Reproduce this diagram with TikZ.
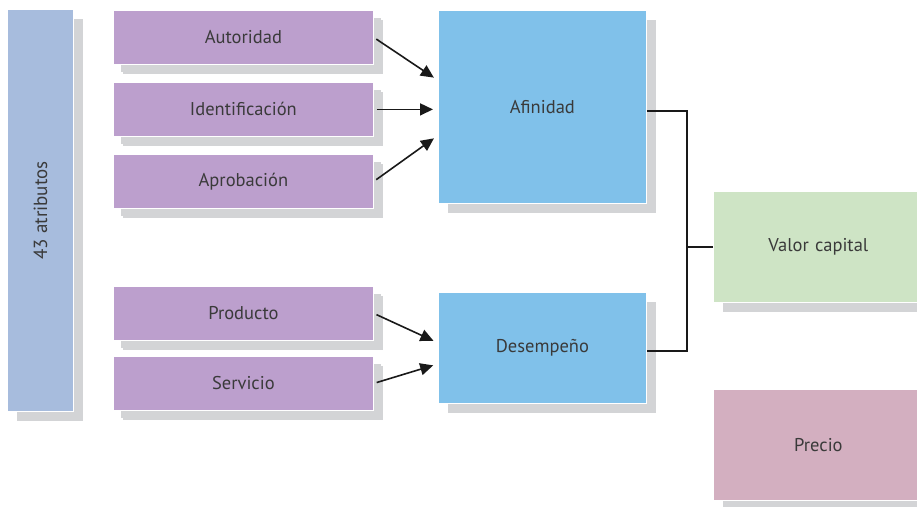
\documentclass[tikz,border=0pt]{standalone}
\usepackage{fontspec}
\setmainfont{PT Sans}
\usetikzlibrary{shadows,arrows.meta,calc}
\definecolor{cAtr}{HTML}{A7BCDD}
\definecolor{cPur}{HTML}{BC9FCD}
\definecolor{cBlu}{HTML}{80C1EA}
\definecolor{cGrn}{HTML}{CEE4C5}
\definecolor{cPnk}{HTML}{D3AFC0}
\definecolor{cShd}{HTML}{D3D4D6}
\definecolor{cTxt}{HTML}{3A3A3A}
\tikzset{
  boxbase/.style={draw=white, line width=0.8pt, anchor=north west, inner sep=0pt,
    text=cTxt, font=\fontsize{18.5}{22}\selectfont, align=center,
    general shadow={fill=cShd, draw=none, shadow xshift=10pt, shadow yshift=-10pt}},
  pbox/.style={boxbase, fill=cPur, minimum width=260pt, minimum height=54pt,
    general shadow={fill=cShd, draw=none, shadow xshift=8pt, shadow yshift=-8pt}},
  arr/.style={line width=1.6pt, draw=black!90, -{Triangle[length=13pt,width=12pt]}},
  conn/.style={line width=1.6pt, draw=black!90},
}
\begin{document}
\begin{tikzpicture}[x=1pt,y=-1pt]
\useasboundingbox (0,0) rectangle (917,506);
\node[boxbase, fill=cAtr, minimum width=66pt, minimum height=402pt] (atr) at (7,9) {};
\node[rotate=90, text=cTxt, font=\fontsize{19}{22}\selectfont] (atrt) at (atr.center) {43 atributos};
\node[pbox] (aut) at (113,10) {Autoridad};
\node[pbox] (ide) at (113,82) {Identificación};
\node[pbox] (apr) at (113,154) {Aprobación};
\node[pbox] (pro) at (113,286) {Producto};
\node[pbox] (ser) at (113,356) {Servicio};
\node[boxbase, fill=cBlu, minimum width=208pt, minimum height=193pt] (afin) at (438,10) {Afinidad};
\node[boxbase, fill=cBlu, minimum width=208pt, minimum height=111pt] (des) at (438,292) {Desempeño};
\node[boxbase, fill=cGrn, minimum width=210pt, minimum height=111pt, text width=204pt] (val) at (713,191) {Valor capital};
\node[boxbase, fill=cPnk, minimum width=210pt, minimum height=111pt, text width=204pt] (pre) at (713,389) {Precio};
\draw[arr, shorten <=3pt, shorten >=5pt] (aut.east) -- ([yshift=26.5pt]afin.west);
\draw[arr, shorten <=3pt, shorten >=5pt] (ide.east) -- ([yshift=-2.5pt]afin.west);
\draw[arr, shorten <=3pt, shorten >=5pt] (apr.east) -- ([yshift=-28.5pt]afin.west);
\draw[arr, shorten <=3pt, shorten >=5pt] (pro.east) -- ([yshift=5pt]des.west);
\draw[arr, shorten <=3pt, shorten >=5pt] (ser.east) -- ([yshift=-16pt]des.west);
\draw[conn] ([yshift=-4pt]afin.east) -- ++(40,0) coordinate (j) |- ([yshift=-3pt]des.east);
\draw[conn] (val.west) -- (val.west -| j);
\end{tikzpicture}
\end{document}
